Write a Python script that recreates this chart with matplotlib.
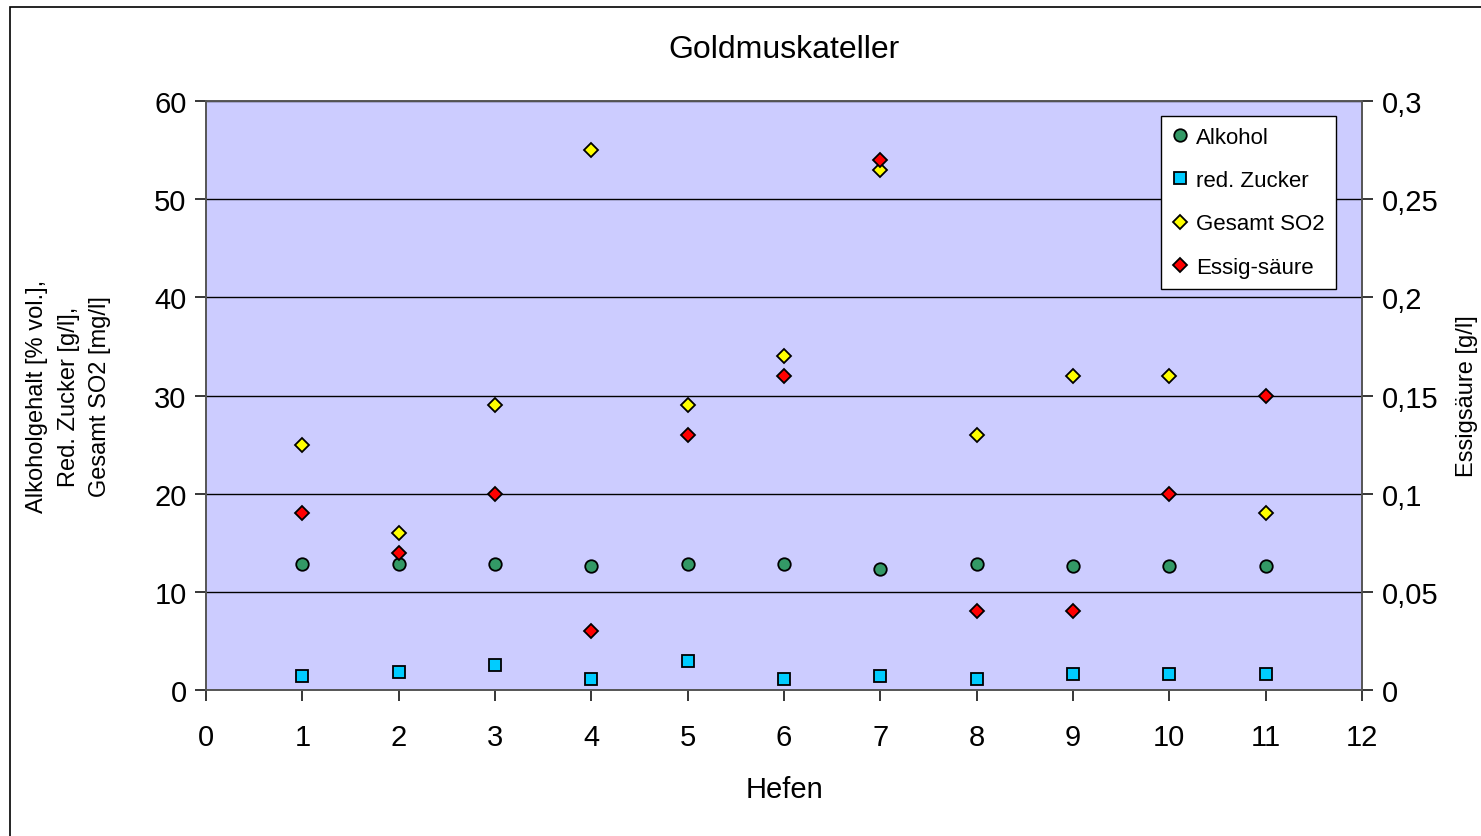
import matplotlib
matplotlib.use("Agg")
from matplotlib import pyplot as plt
from matplotlib.patches import Rectangle
from matplotlib.ticker import FuncFormatter

plt.rcParams['font.family'] = ['Liberation Sans', 'DejaVu Sans']

# Daten
hefen = [1, 2, 3, 4, 5, 6, 7, 8, 9, 10, 11]
alkohol = [12.8, 12.8, 12.8, 12.6, 12.8, 12.8, 12.3, 12.8, 12.6, 12.6, 12.6]
zucker = [1.4, 1.8, 2.5, 1.1, 2.95, 1.1, 1.4, 1.1, 1.6, 1.6, 1.6]
so2 = [25, 16, 29, 55, 29, 34, 53, 26, 32, 32, 18]
essig = [0.09, 0.07, 0.10, 0.03, 0.13, 0.16, 0.27, 0.04, 0.04, 0.10, 0.15]

fig = plt.figure(figsize=(14.81, 8.37), dpi=100)
fig.patches.append(Rectangle((10 / 1481, -0.01), 1.02, 1 - 8 / 837 + 0.01,
                             transform=fig.transFigure, fill=False,
                             edgecolor='black', linewidth=1.2))

ax = fig.add_axes([206 / 1481, 146 / 837, 1156 / 1481, 589 / 837])
ax.set_facecolor('#CCCCFF')
ax2 = ax.twinx()

ax.set_xlim(0, 12)
ax.set_ylim(0, 60)
ax2.set_ylim(0, 0.3)
ax.set_xticks(range(0, 13))
ax.set_yticks(range(0, 61, 10))
ax2.set_yticks([0, 0.05, 0.1, 0.15, 0.2, 0.25, 0.3])
ax2.yaxis.set_major_formatter(FuncFormatter(lambda v, p: ('%g' % round(v, 2)).replace('.', ',')))

ax.grid(axis='y', color='black', linewidth=1)
ax.set_axisbelow(True)

for a in (ax, ax2):
    for s in a.spines.values():
        s.set_color('#555555')
        s.set_linewidth(1.2)
ax.tick_params(axis='y', labelsize=21, length=8, width=1.1, direction='out', pad=6)
ax.tick_params(axis='x', labelsize=21, length=8, width=1.1, direction='out', pad=16)
ax2.tick_params(axis='y', labelsize=21, length=8, width=1.1, direction='out', pad=6)

mk = dict(linestyle='none', markeredgecolor='black', markeredgewidth=1.3)
l1, = ax.plot(hefen, alkohol, marker='o', markersize=9, markerfacecolor='#339966', label='Alkohol', **mk)
l2, = ax.plot(hefen, zucker, marker='s', markersize=8.5, markerfacecolor='#00CCFF', label='red. Zucker', **mk)
l3, = ax.plot(hefen, so2, marker='D', markersize=7.5, markerfacecolor='#FFFF00', label='Gesamt SO2', **mk)
l4, = ax2.plot(hefen, essig, marker='D', markersize=7.5, markerfacecolor='#FF0000', label='Essig-säure', **mk)

ax.set_title('Goldmuskateller', fontsize=23, pad=32)
ax.set_xlabel('Hefen', fontsize=21, labelpad=17)
ax.set_ylabel('Alkoholgehalt [% vol.],\nRed. Zucker [g/l],\nGesamt SO2 [mg/l]', fontsize=17,
              labelpad=31, linespacing=1.55)
ax2.set_ylabel('Essigsäure [g/l]', fontsize=17, labelpad=13)

leg = ax2.legend(handles=[l1, l2, l3, l4], loc='upper right', bbox_to_anchor=(0.9775, 0.975),
                 fontsize=16, frameon=True, fancybox=False, framealpha=1,
                 edgecolor='black', handlelength=0.7, handletextpad=0.4,
                 labelspacing=1.0, borderpad=0.5, borderaxespad=0, markerscale=1.0)
leg.get_frame().set_linewidth(1)

fig.savefig('out.png', dpi=100)
